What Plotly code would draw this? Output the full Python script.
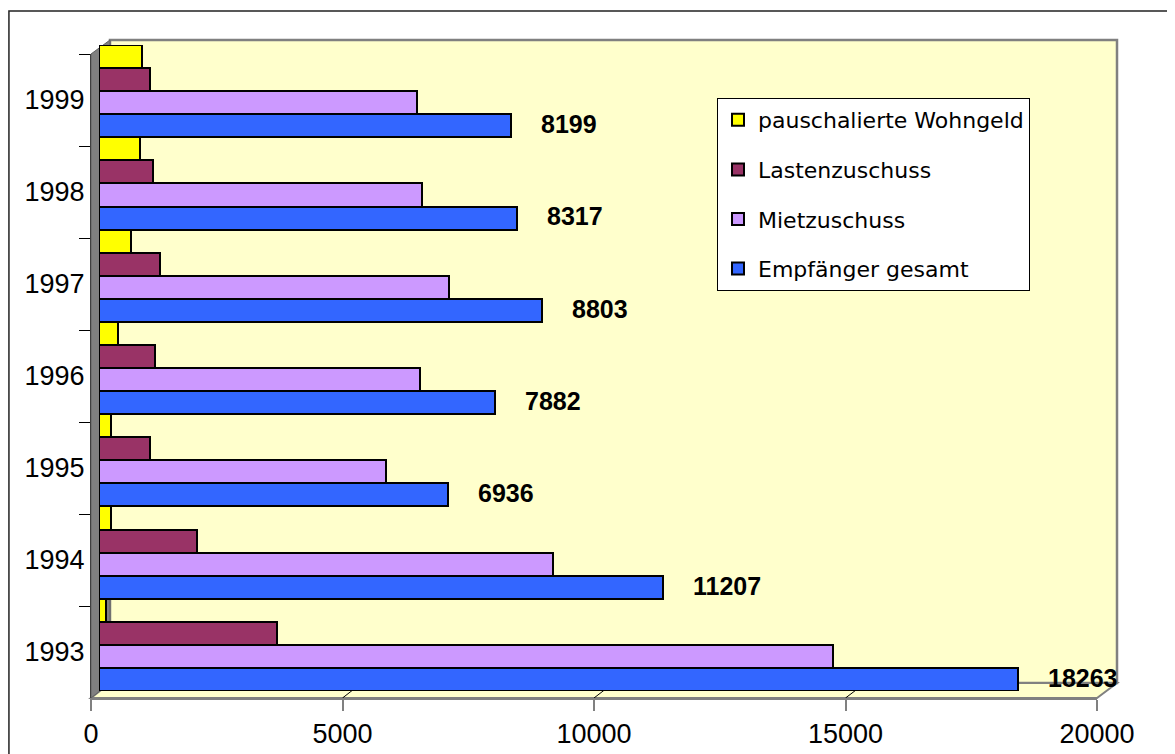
import plotly.graph_objects as go

# ---- data ----
years = ["1993", "1994", "1995", "1996", "1997", "1998", "1999"]
empfaenger_gesamt = [18263, 11207, 6936, 7882, 8803, 8317, 8199]
mietzuschuss = [14590, 9020, 5700, 6390, 6950, 6430, 6330]
lastenzuschuss = [3540, 1950, 1010, 1110, 1210, 1070, 1010]
pauschal_wohngeld = [130, 240, 230, 380, 640, 820, 860]
x_ticks = [0, 5000, 10000, 15000, 20000]
grid_vals = [5000, 10000, 15000]

# page is rendered with an 8px body margin -> figure fills the rest
OFF = 8
W, H = 1175 - OFF, 754 - OFF


def px(x):
    return (x - OFF) / W


def py(y):
    return 1 - (y - OFF) / H


LINE = dict(color="#000000", width=2)
series = [
    ("Empfänger gesamt", empfaenger_gesamt, "#3366FF", 4),
    ("Mietzuschuss", mietzuschuss, "#CC99FF", 3),
    ("Lastenzuschuss", lastenzuschuss, "#993366", 2),
    ("pauschalierte Wohngeld", pauschal_wohngeld, "#FFFF00", 1),
]

fig = go.Figure()
for name, vals, col, rank in series:
    fig.add_trace(go.Bar(
        y=years, x=vals, orientation="h", name=name,
        marker=dict(color=col, line=LINE),
        xaxis="x2", yaxis="y2", legendgroup=name, legendrank=rank,
    ))

# invisible trace to give the label axes their categories
fig.add_trace(go.Scatter(x=[0] * len(years), y=years, mode="markers",
                         marker=dict(opacity=0), showlegend=False,
                         hoverinfo="skip", xaxis="x3", yaxis="y3"))

# value labels on the totals (category axis -> use category index)
annotations = []
for i, v in enumerate(empfaenger_gesamt):
    annotations.append(dict(
        x=v, y=i, xref="x2", yref="y2", text=f"<b>{v}</b>", showarrow=False,
        xanchor="left", yanchor="middle", xshift=28, yshift=-33,
        font=dict(family="Liberation Sans, Arial", size=25, color="#000000"),
    ))

# 3D-look walls (decoration)
GRAY = "#808080"
shapes = [
    # outer chart border
    dict(type="rect", xref="paper", yref="paper", x0=0.0008, x1=1.02, y0=-0.02, y1=py(11),
         line=dict(color="#222222", width=1.5), fillcolor="rgba(0,0,0,0)", layer="below"),
    # back wall
    dict(type="rect", xref="paper", yref="paper", x0=px(110), x1=px(1117), y0=py(683), y1=py(40),
         line=dict(color=GRAY, width=2.5), fillcolor="#FFFFCC", layer="below"),
    # floor
    dict(type="path", xref="paper", yref="paper",
         path=f"M{px(91)},{py(698)} L{px(1097)},{py(698)} L{px(1117)},{py(683)} L{px(110)},{py(683)} Z",
         line=dict(color=GRAY, width=2), fillcolor="#FFFFCC", layer="below"),
    # left wall
    dict(type="path", xref="paper", yref="paper",
         path=f"M{px(91)},{py(54)} L{px(110)},{py(40)} L{px(110)},{py(683)} L{px(91)},{py(698)} Z",
         line=dict(color="#606060", width=1), fillcolor=GRAY, layer="below"),
]
for v in grid_vals:
    xf = 91 + v * 1006 / 20000
    xb = 110 + v * 1007 / 20000
    shapes.append(dict(type="line", xref="paper", yref="paper",
                       x0=px(xf), y0=py(698), x1=px(xb), y1=py(683),
                       line=dict(color="#000000", width=1), layer="below"))

AX_FONT = dict(family="Liberation Sans, Arial", size=27, color="#000000")
HIDDEN = dict(showticklabels=False, ticks="", showline=False, showgrid=False,
              zeroline=False, automargin=False)

fig.update_layout(
    template="none",
    width=W, height=H,
    margin=dict(l=0, r=0, t=0, b=0, pad=0),
    paper_bgcolor="#FFFFFF",
    plot_bgcolor="rgba(0,0,0,0)",
    barmode="group", bargap=0, bargroupgap=0,
    showlegend=True,
    shapes=shapes,
    annotations=annotations,
    # gridline axis (back wall)
    xaxis=dict(domain=[px(110), px(1117)], range=[0, 20000], anchor="y",
               tickvals=grid_vals, showgrid=True, gridcolor="#000000", gridwidth=1,
               showticklabels=False, ticks="", zeroline=False, showline=False,
               automargin=False),
    yaxis=dict(domain=[py(683), py(40)], range=[0, 1], anchor="x", **HIDDEN),
    # bar axes
    xaxis2=dict(domain=[px(99), px(1105)], range=[0, 20000], anchor="y2", **HIDDEN),
    yaxis2=dict(domain=[py(691), py(45)], type="category", categoryorder="array",
                categoryarray=years, range=[-0.5, len(years) - 0.5], anchor="x2", **HIDDEN),
    # front label axes
    xaxis3=dict(domain=[px(91), px(1097)], range=[0, 20000], anchor="y3",
                tickvals=x_ticks, ticktext=[str(t) for t in x_ticks],
                ticks="outside", ticklen=11, tickcolor=GRAY, tickwidth=1.5,
                showline=True, linecolor=GRAY, linewidth=2, showgrid=False,
                zeroline=False, tickfont=AX_FONT, automargin=False),
    yaxis3=dict(domain=[py(698), py(54)], type="category", categoryorder="array",
                categoryarray=years, range=[-0.5, len(years) - 0.5], anchor="x3",
                tickson="boundaries", ticks="outside", ticklen=11, tickcolor="#000000",
                tickwidth=1, showline=True, linecolor="#404040", linewidth=1,
                showgrid=False, zeroline=False, tickfont=AX_FONT, automargin=False),
    legend=dict(
        x=px(717), y=py(98), xanchor="left", yanchor="top",
        bgcolor="#FFFFFF", bordercolor="#000000", borderwidth=1,
        font=dict(family="DejaVu Sans, Verdana", size=22, color="#000000"),
        traceorder="grouped", tracegroupgap=18,
        itemsizing="constant",
    ),
)

fig.write_html("out.html")
